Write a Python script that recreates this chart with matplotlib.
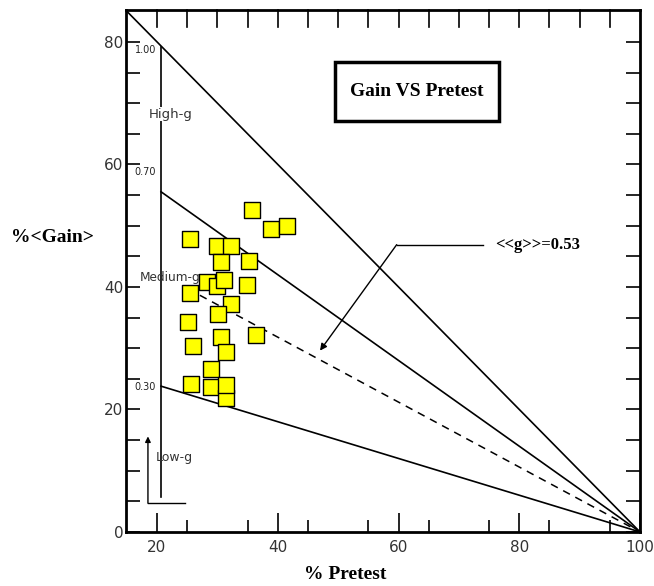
import matplotlib
matplotlib.use("Agg")
import matplotlib.pyplot as plt
import numpy as np
from matplotlib.patches import Rectangle

# ---- data ----
pretest = [35.7, 38.8, 41.5, 25.5, 29.9, 32.2, 30.6, 35.2, 28.3, 29.9,
           31.1, 34.9, 25.4, 32.3, 30.1, 25.2, 36.4, 26.0, 30.6, 31.5,
           28.9, 25.6, 28.9, 31.5, 31.5]
gain = [52.6, 49.5, 49.9, 47.8, 46.7, 46.7, 44.1, 44.3, 40.8, 40.1,
        41.1, 40.3, 39.0, 37.2, 35.5, 34.2, 32.2, 30.4, 31.8, 29.3,
        26.6, 24.2, 23.6, 21.9, 24.0]
g_levels = [1.00, 0.70, 0.30]
g_labels = ["1.00", "0.70", "0.30"]
g_mean = 0.53
x_ticks = [20, 40, 60, 80, 100]
y_ticks = [0, 20, 40, 60, 80]

fig = plt.figure(figsize=(6.54, 5.86), dpi=100)
ax = fig.add_axes([0.1927, 0.0922, 0.7859, 0.8907])
xmin, xmax, ymin, ymax = 14.87, 100, 0, 85.2
ax.set_xlim(xmin, xmax)
ax.set_ylim(ymin, ymax)

# g lines
xs = np.array([xmin, 100])
ax.plot(xs, g_levels[0] * (100 - xs), color="black", lw=1.2, zorder=2)
x0 = 20.67
for g in g_levels[1:]:
    xx = np.array([x0, 100])
    ax.plot(xx, g * (100 - xx), color="black", lw=1.2, zorder=2)
xd = np.array([27.1, 100])
ax.plot(xd, g_mean * (100 - xd), color="black", lw=1.1, ls=(0, (5, 4)), zorder=2)

# vertical guide line
ax.plot([x0, x0], [79.2, 5.7], color="black", lw=1.2, zorder=2)

# small g labels
ax.text(16.3, 78.7, g_labels[0], fontsize=7, va="center", ha="left",
        color="#222222", zorder=3)
ax.text(16.3, 58.8, g_labels[1], fontsize=7, va="center", ha="left",
        color="#222222", zorder=3)
ax.text(16.3, 23.6, g_labels[2], fontsize=7, va="center", ha="left",
        color="#222222", zorder=3)
ax.text(18.6, 68.2, "High-g", fontsize=9.5, va="center", ha="left", color="#333333",
        zorder=3, bbox=dict(facecolor="white", edgecolor="none", pad=0.5))
ax.text(17.2, 41.6, "Medium-g", fontsize=8.7, va="center", ha="left", color="#333333",
        zorder=3)
ax.text(19.8, 12.1, "Low-g", fontsize=9, va="center", ha="left", color="#333333",
        zorder=3)

# Low-g arrow
ax.plot([18.5, 24.6], [4.7, 4.7], color="black", lw=1.0)
ax.annotate("", xy=(18.5, 15.6), xytext=(18.5, 4.7),
            arrowprops=dict(arrowstyle="-|>", color="black", lw=1.0,
                            mutation_scale=8, shrinkA=0, shrinkB=0))

# data points
ax.scatter(pretest, gain, marker="s", s=120, facecolor="#ffff00",
           edgecolor="black", linewidth=1.0, zorder=4)

# <<g>> annotation
ax.plot([59.7, 74.0], [46.9, 46.9], color="black", lw=1.0)
ax.annotate("", xy=(47.0, 29.6), xytext=(59.7, 46.9),
            arrowprops=dict(arrowstyle="-|>", color="black", lw=1.0,
                            mutation_scale=10, shrinkA=0, shrinkB=0))
ax.text(76.0, 46.9, "<<g>>=0.53", fontsize=12, fontweight="bold",
        family="Liberation Serif", va="center", ha="left")

# title box
ax.add_patch(Rectangle((0.4066, 0.787), 0.3191, 0.1134, transform=ax.transAxes,
                       facecolor="white", edgecolor="black", lw=2.5, zorder=5))
ax.text(0.566, 0.844, "Gain VS Pretest", transform=ax.transAxes, fontsize=14,
        fontweight="bold", family="Liberation Serif", ha="center", va="center",
        zorder=6)

# ticks
ax.set_xticks(x_ticks)
ax.set_xticklabels([str(t) for t in x_ticks])
ax.set_yticks(y_ticks)
ax.set_yticklabels([str(t) for t in y_ticks])
ax.set_xticks(np.arange(25, 100, 10), minor=True)
ax.set_yticks(np.arange(5, 85, 5), minor=True)
ax.tick_params(axis="x", which="major", direction="in", length=14, width=1.2,
               top=False, labelsize=11, labelcolor="#333333", pad=6)
ax.tick_params(axis="x", which="minor", direction="in", length=9, width=1.2,
               top=False)
ax.tick_params(axis="y", which="both", direction="in", length=10, width=1.2,
               right=True, labelsize=11, labelcolor="#333333", pad=2)

# top ticks
for x in np.arange(20, 100, 5):
    ax.plot([x, x], [ymax, ymax - 2.8], color="black", lw=1.2, clip_on=False)

for s in ax.spines.values():
    s.set_linewidth(2)

fig.text(0.0795, 0.594, "%<Gain>", fontsize=14, fontweight="bold",
         family="Liberation Serif", ha="center", va="center")
fig.text(0.528, 0.019, "% Pretest", fontsize=14, fontweight="bold",
         family="Liberation Serif", ha="center", va="center")

fig.savefig("out.png", dpi=100)
